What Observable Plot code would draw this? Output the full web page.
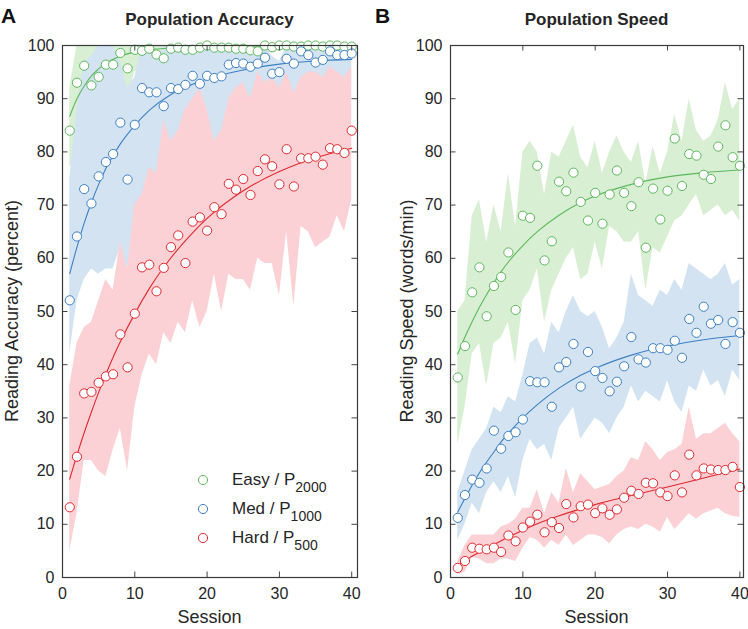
<!DOCTYPE html>
<html><head><meta charset="utf-8">
<script src="https://cdn.jsdelivr.net/npm/d3@7"></script>
<script src="https://cdn.jsdelivr.net/npm/@observablehq/plot@0.6"></script>
<style>
body{margin:0;background:#fff;}
#wrap{display:flex;width:748px;height:629px;font-family:"Liberation Sans",Arial,sans-serif;}
#wrap svg{display:block;}
</style>
</head><body><div id="wrap"></div>
<script>
// ---------- data ----------
const sessions = [1,2,3,4,5,6,7,8,9,10,11,12,13,14,15,16,17,18,19,20,21,22,23,24,25,26,27,28,29,30,31,32,33,34,35,36,37,38,39,40];
const levels = ["Easy", "Med", "Hard"];
const printSizes = ["2000", "1000", "500"];
const yTicks = [0,10,20,30,40,50,60,70,80,90,100];
const xTicks = [0,10,20,30,40];

// Panel A: accuracy (percent)
const accEasy = [84,93.0,96.2,92.5,94.1,96.4,96.4,98.6,95.7,99.2,99.0,99.4,98.3,97.6,99.4,99.6,99.2,99.2,99.6,100,99.6,99.6,99.6,99.4,99.4,99.1,98.9,100,99.7,100,100,99.8,99.8,100,100,99.8,100,100,99.8,99.8];
const accMed = [52.1,64.1,73.0,70.3,75.4,78.1,79.6,85.5,74.8,85.1,92.0,91.2,91.2,88.6,92.0,91.8,92.6,94.3,92.8,94.3,93.9,94.2,96.4,96.7,96.6,96.0,96.6,97.7,94.7,95.0,97.5,96.6,98.9,98.2,96.8,97.3,98.9,98.2,98.2,98.5];
const accHard = [13.2,22.7,34.6,34.9,36.6,37.8,38.2,45.7,39.5,49.6,58.3,58.8,53.8,58.2,62.1,64.3,59.1,66.9,67.7,65.2,69.6,68.3,74.0,72.9,74.9,71.9,76.4,78.6,77.3,73.9,80.5,73.5,78.8,78.8,79.1,77.6,80.7,80.5,79.8,84.0];
const accEasyLo = [77,80,78,86,88,85,91,93,90,95,96,97,94,95,97.5,98,97,98,98.5,99,98.5,98.5,98,98,98.5,97.5,97,99,98.5,99,99,98.5,99,99,99,98.5,99,99,98.5,98.5];
const accEasyHi = [92,100,100,100,100,100,100,100,100,100,100,100,100,100,100,100,100,100,100,100,100,100,100,100,100,100,100,100,100,100,100,100,100,100,100,100,100,100,100,100];
const accMedLo = [42,52,56,58,57,58,58,62,58,66,70,72,68,75,72,78,73,80,76,82,80,78,84,86,82,88,86,90,84,88,91,87,92,90,88,93,91,94,92,93];
const accMedHi = [75,88,97,98,100,100,100,97,92,94,100,100,97,100,100,100,100,100,100,100,100,100,100,100,100,100,100,100,98,97,100,100,98,100,100,100,100,100,100,100];
const accHardLo = [5,12,22,22,20,19,24,28,20,32,38,42,40,46,44,48,46,52,47,50,57,50,57,56,56,54,60,59,59,53,65,51,66,65,62,63,64,68,65,71];
const accHardHi = [36,44,47,48,52,56,54,63,58,70,72,77,76,86,82,84,88,90,92,88,82,84,90,92,93,90,95,93,94,92,95,91,94,95,95,94,96,95,94,96];

// Panel B: speed (words/min)
const spdEasy = [37.6,43.5,53.6,58.3,49.1,54.8,56.5,61.1,50.3,68.0,67.6,77.4,59.6,63.2,74.4,72.6,76.1,70.6,67.1,72.3,66.5,72.0,76.5,72.3,69.8,74.3,62.0,73.1,67.3,72.7,82.5,73.6,79.6,79.3,75.7,74.9,81.0,85.0,79.0,77.4];
const spdMed = [11.2,15.5,18.4,17.8,20.5,27.6,24.2,26.6,27.3,29.7,36.9,36.7,36.7,32.1,39.5,40.5,43.9,35.9,42.4,38.8,37.5,35.0,36.8,39.7,45.2,41.0,40.4,43.1,43.1,42.8,44.5,41.3,48.6,46.0,50.9,47.7,48.4,43.9,48.0,46.0];
const spdHard = [1.8,3.1,5.6,5.4,5.3,5.6,4.8,7.9,6.8,9.4,10.5,11.8,8.5,10.4,9.3,13.8,11.3,13.4,13.7,12.1,13.0,11.8,12.8,15.0,16.3,15.7,17.8,17.7,16.0,15.3,19.2,16.0,23.1,19.2,20.5,20.3,20.2,20.2,20.8,17.0];
const spdEasyLo = [25,32,42,44,36,44,45,48,40,52,54,58,48,54,57,60,62,56,57,63,58,66,65,63,63,65,54,62,61,64,67,68,70,72,68,69,70,68,69,67];
const spdEasyHi = [50,52,68,71,63,70,65,76,66,80,82,80,72,80,79,82,85,79,77,82,76,80,83,80,78,82,74,81,76,80,87,82,90,84,82,83,86,93,88,90];
const spdMedLo = [7,10,14,12,16,18,16,19,15,22,26,24,25,22,28,30,32,26,28,30,29,27,30,32,36,33,35,34,33,37,33,31,36,35,39,36,37,34,39,37];
const spdMedHi = [16,20,24,26,28,32,31,34,33,38,44,45,42,48,46,50,53,50,49,50,47,43,45,48,57,53,52,51,54,53,56,54,59,58,57,56,57,59,55,56];
const spdHardLo = [0.5,1,3.8,3.5,2.6,2.6,3.5,3.5,3,5.5,7.5,7,5.5,7,6,8,6,7,8,8,7.5,6.3,8,9,9.5,9,10,9.5,8.5,11.3,9,10.5,12,11,12,12.5,13,12,11.5,11.3];
const spdHardHi = [3,6,8,8,8,8,9.5,10,11,13,13,16.5,12,16,14,20.5,16,19.5,18,16.5,17,17.5,19,20,22.5,22,25.5,24,22,23.5,24,25,32,26,27,27,28,29,27,25.5];

// fitted curves at these sessions
const fitSessions = [1,2,3,4,5,6,7,8,10,12,15,18,20,25,30,35,40];
const accEasyFit = [86.7,90.0,92.4,94.3,95.6,96.7,97.4,98.0,98.75,99.2,99.5,99.6,99.65,99.7,99.7,99.7,99.7];
const accMedFit = [57.1,62.1,66.6,70.5,73.9,76.9,79.3,81.5,85.0,87.8,90.8,92.7,93.7,95.4,96.5,97.1,97.4];
const accHardFit = [18.5,23.0,27.2,31.1,34.8,38.2,41.4,44.3,49.6,54.3,60.1,64.8,67.5,72.7,76.3,78.9,80.7];
const spdEasyFit = [42.0,45.2,48.1,50.8,53.2,55.4,57.5,59.3,62.4,65.0,68.1,70.5,71.7,73.9,75.3,76.1,76.6];
const spdMedFit = [12.3,14.9,17.4,19.7,21.7,23.6,25.5,27.1,30.0,32.5,35.6,38.0,39.3,41.8,43.5,44.7,45.5];
const spdHardFit = [2.3,3.2,4.0,4.8,5.5,6.2,6.9,7.6,8.9,10.1,11.6,12.9,13.7,15.4,17.0,18.7,20.4];

// ---------- styles ----------
const strokeColors = {Easy: "#5cb85c", Med: "#3d80c3", Hard: "#e0282e"};
const bandColors = {Easy: "#d9efd4", Med: "#d3e3f2", Hard: "#fbd1d5"};
const FONT = '"Liberation Sans", Arial, sans-serif';
const TXT = "#262626";

function rowsFor(level, vals, lo, hi) {
  return sessions.map((s, i) => ({level, s, v: vals[i], lo: lo[i], hi: hi[i]}));
}
function fitRows(level, vals) {
  return fitSessions.map((s, i) => ({level, s, v: vals[i]}));
}

function makePanel(cfg) {
  const W = cfg.width, H = 629, mt = 45, mb = 52;
  const pw = W - cfg.ml - cfg.mr, ph = H - mt - mb;
  const marks = [];
  for (const lv of levels) {
    marks.push(Plot.areaY(cfg.data[lv], {x: "s", y1: "lo", y2: "hi", fill: bandColors[lv], curve: "linear"}));
  }
  for (const lv of levels) {
    marks.push(Plot.line(cfg.fit[lv], {x: "s", y: "v", stroke: strokeColors[lv], strokeWidth: 1.1, curve: "monotone-x"}));
    marks.push(Plot.dot(cfg.data[lv], {x: "s", y: "v", r: 4.6, stroke: strokeColors[lv], fill: "white", strokeWidth: 1}));
  }
  const tk = 5.5;
  marks.push(
    Plot.tickY(yTicks, {y: d => d, stroke: "#444", strokeWidth: 1, insetRight: pw - tk}),
    Plot.tickY(yTicks, {y: d => d, stroke: "#444", strokeWidth: 1, insetLeft: pw - tk}),
    Plot.tickX(xTicks, {x: d => d, stroke: "#444", strokeWidth: 1, insetTop: ph - tk}),
    Plot.tickX(xTicks, {x: d => d, stroke: "#444", strokeWidth: 1, insetBottom: ph - tk}),
    Plot.frame({stroke: "#3a3a3a", strokeWidth: 1.2}),
    Plot.axisY({ticks: yTicks, tickSize: 0, tickPadding: 8, label: null, fontSize: 16, color: TXT}),
    Plot.axisX({ticks: xTicks, tickSize: 0, tickPadding: 10, label: null, fontSize: 16, color: TXT})
  );
  const svg = Plot.plot({
    width: W, height: H,
    marginLeft: cfg.ml, marginRight: cfg.mr, marginTop: mt, marginBottom: mb,
    style: {fontFamily: FONT, color: TXT, background: "white", overflow: "visible"},
    x: {domain: cfg.xDomain},
    y: {domain: [0, 100]},
    marks
  });
  const g = d3.select(svg);
  const cx = cfg.ml + pw / 2;
  g.append("text").attr("x", cx).attr("y", 25).attr("text-anchor", "middle")
    .attr("font-family", FONT).attr("font-size", 17).attr("font-weight", "bold").attr("fill", TXT).text(cfg.title);
  g.append("text").attr("x", cfg.letterX).attr("y", 23).attr("text-anchor", "start")
    .attr("font-family", FONT).attr("font-size", 21).attr("font-weight", "bold").attr("fill", "#111").text(cfg.letter);
  g.append("text").attr("x", cx).attr("y", 623).attr("text-anchor", "middle")
    .attr("font-family", FONT).attr("font-size", 18).attr("fill", TXT).text("Session");
  g.append("text").attr("transform", `translate(${cfg.ylabX},${mt + ph / 2}) rotate(-90)`)
    .attr("text-anchor", "middle").attr("dominant-baseline", "middle")
    .attr("font-family", FONT).attr("font-size", 18).attr("fill", TXT).text(cfg.ylabel);
  return svg;
}

const accData = {Easy: rowsFor("Easy", accEasy, accEasyLo, accEasyHi), Med: rowsFor("Med", accMed, accMedLo, accMedHi), Hard: rowsFor("Hard", accHard, accHardLo, accHardHi)};
const accFit = {Easy: fitRows("Easy", accEasyFit), Med: fitRows("Med", accMedFit), Hard: fitRows("Hard", accHardFit)};
const spdData = {Easy: rowsFor("Easy", spdEasy, spdEasyLo, spdEasyHi), Med: rowsFor("Med", spdMed, spdMedLo, spdMedHi), Hard: rowsFor("Hard", spdHard, spdHardLo, spdHardHi)};
const spdFit = {Easy: fitRows("Easy", spdEasyFit), Med: fitRows("Med", spdMedFit), Hard: fitRows("Hard", spdHardFit)};

const panelA = makePanel({width: 374, ml: 62, mr: 17, xDomain: [0, 40.8], data: accData, fit: accFit,
  title: "Population Accuracy", letter: "A", letterX: 1, ylabX: 13, ylabel: "Reading Accuracy (percent)"});
const panelB = makePanel({width: 374, ml: 76, mr: 5, xDomain: [0, 40.5], data: spdData, fit: spdFit,
  title: "Population Speed", letter: "B", letterX: 1, ylabX: 34, ylabel: "Reading Speed (words/min)"});

// legend in panel A
const lg = d3.select(panelA).append("g").attr("text-anchor", "start");
levels.forEach((lv, i) => {
  const y = 480 + i * 29;
  lg.append("circle").attr("cx", 203).attr("cy", y).attr("r", 4.6)
    .attr("fill", "white").attr("stroke", strokeColors[lv]).attr("stroke-width", 1);
  const t = lg.append("text").attr("x", 232).attr("y", y + 5).attr("text-anchor", "start")
    .attr("font-family", FONT).attr("font-size", 17).attr("fill", TXT);
  t.append("tspan").text(`${lv} / P`);
  t.append("tspan").attr("dy", 7).attr("font-size", 14).text(printSizes[i]);
});

document.getElementById("wrap").append(panelA, panelB);
</script>
</body></html>
